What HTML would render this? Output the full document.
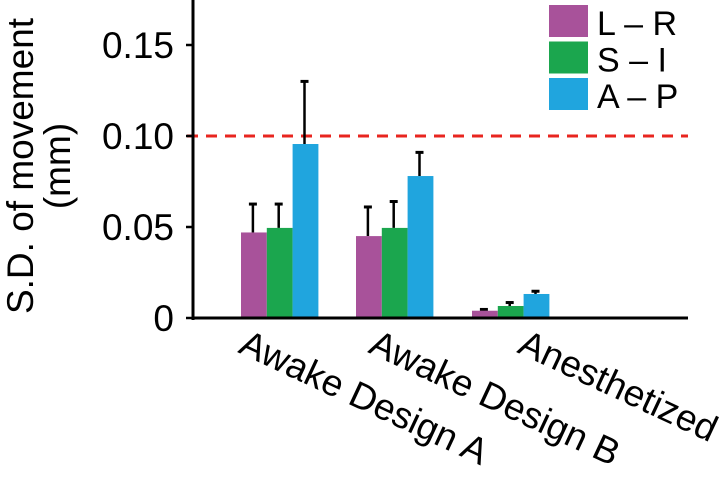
<!DOCTYPE html>
<html><head><meta charset="utf-8"><style>
body{margin:0;background:#fff}
svg text{font-family:"Liberation Sans",Arial,sans-serif;fill:#000}
</style></head><body>
<svg id="chart" width="721" height="476" xmlns="http://www.w3.org/2000/svg"></svg>
<script>
const categories = ["Awake Design A", "Awake Design B", "Anesthetized"];
const seriesNames = ["L \u2013 R", "S \u2013 I", "A \u2013 P"];
const lrValues = [0.047, 0.045, 0.004];
const siValues = [0.0495, 0.0495, 0.0066];
const apValues = [0.0956, 0.078, 0.0132];
const lrErr = [0.0626, 0.061, 0.0047];
const siErr = [0.0626, 0.064, 0.0085];
const apErr = [0.130, 0.091, 0.0147];
const yTicks = [0, 0.05, 0.10, 0.15];
const yTickLabels = ["0", "0.05", "0.10", "0.15"];
const threshold = 0.10;

const colors = ["#a8529a", "#1ba64e", "#20a5de"];
const svg = document.getElementById('chart');
const NS = "http://www.w3.org/2000/svg";
function mk(tag, attrs, name, parent) {
  const e = document.createElementNS(NS, tag);
  for (const k in attrs) e.setAttribute(k, attrs[k]);
  
  
  (parent || svg).appendChild(e);
  return e;
}
const x0 = 193, y0 = 318, pxPerUnit = 1820;
const yScale = v => y0 - v * pxPerUnit;
const groupStart = [241, 356, 472];
const barW = 25.8;
const xBar = (g, s) => groupStart[g] + s * barW;

mk('line', {x1: 187, x2: 688, y1: yScale(threshold), y2: yScale(threshold), stroke: '#e8251f', 'stroke-width': 3, 'stroke-dasharray': '11,8'}, 'threshold-line');

const vals = [lrValues, siValues, apValues];
const errs = [lrErr, siErr, apErr];
const keys = ['lr', 'si', 'ap'];
for (let g = 0; g < categories.length; g++) {
  for (let s = 0; s < 3; s++) {
    const x = xBar(g, s);
    const cx = x + barW / 2 - 1;
    const eb = mk('line', {x1: cx, x2: cx, y1: yScale(vals[s][g]), y2: yScale(errs[s][g]), stroke: '#000', 'stroke-width': 2.5}, 'error-bar');
    
    const cap = mk('line', {x1: cx - 4, x2: cx + 4, y1: yScale(errs[s][g]), y2: yScale(errs[s][g]), stroke: '#000', 'stroke-width': 3}, 'error-cap');
    
    const b = mk('rect', {x: x, y: yScale(vals[s][g]), width: barW, height: vals[s][g] * pxPerUnit, fill: colors[s]}, 'bar');
    
  }
}

mk('line', {x1: x0, x2: x0, y1: 0, y2: 320, stroke: '#000', 'stroke-width': 3}, 'y-axis');
mk('line', {x1: x0 - 1, x2: 688, y1: y0, y2: y0, stroke: '#000', 'stroke-width': 3}, 'x-axis');
yTicks.forEach((t, i) => {
  const tk = mk('line', {x1: 186, x2: x0, y1: yScale(t), y2: yScale(t), stroke: '#000', 'stroke-width': 2.5}, 'y-tick');
  
  const lb = mk('text', {x: 174, y: yScale(t) + 13, 'text-anchor': 'end', 'font-size': 37}, 'y-tick-label');
  
  lb.textContent = yTickLabels[i];
});

const yt = mk('text', {transform: 'translate(33,166) rotate(-90)', 'text-anchor': 'middle', 'font-size': 37}, 'y-axis-title');
yt.textContent = 'S.D. of movement';
const yt2 = mk('text', {transform: 'translate(70,166) rotate(-90)', 'text-anchor': 'middle', 'font-size': 37}, 'y-axis-unit');
yt2.textContent = '(mm)';

const labelPos = [[237, 352], [367, 352], [516, 352]];
categories.forEach((c, i) => {
  const t = mk('text', {transform: 'translate(' + labelPos[i][0] + ',' + labelPos[i][1] + ') rotate(25)', 'font-size': 37}, 'x-label');
  
  t.textContent = c;
});

const lg = mk('g', {}, 'legend');
seriesNames.forEach((n, i) => {
  const r = mk('rect', {x: 549, y: 5 + i * 36.5, width: 39, height: 32, fill: colors[i]}, 'legend-swatch', lg);
  
  const t = mk('text', {x: 597, y: 35 + i * 36.5, 'font-size': 34}, 'legend-label', lg);
  
  t.textContent = n;
});
</script>
</body></html>
